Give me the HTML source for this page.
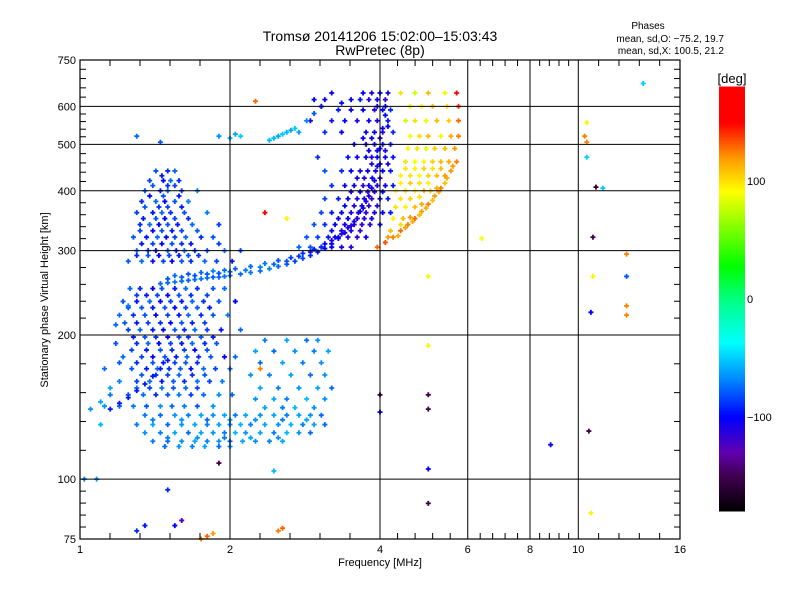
<!DOCTYPE html>
<html><head><meta charset="utf-8"><style>
body{margin:0;background:#fff;}
svg{display:block;font-family:"Liberation Sans",sans-serif;}
</style></head><body>
<svg id="c" width="800" height="600" viewBox="0 0 800 600">
<rect width="800" height="600" fill="#fff"/>
<g id="marks"></g>
<g id="grid"></g>
<text x="380" y="41" font-size="14" text-anchor="middle">Tromsø 20141206 15:02:00–15:03:43</text>
<text x="380" y="55" font-size="14" text-anchor="middle">RwPretec (8p)</text>
<text x="648" y="29" font-size="10" text-anchor="middle">Phases</text>
<text x="724" y="42" font-size="10" text-anchor="end">mean, sd,O: −75.2, 19.7</text>
<text x="724" y="54" font-size="10" text-anchor="end">mean, sd,X: 100.5, 21.2</text>
<text x="380" y="566" font-size="11" text-anchor="middle">Frequency [MHz]</text>
<text x="48" y="300" font-size="11" text-anchor="middle" transform="rotate(-90 48 300)">Stationary phase Virtual Height [km]</text>
<g id="cbar"></g>
</svg>
<script>
// Frequency [MHz], height [km], phase [deg]
const fTrace = [[1.45,256,-75],[1.5,257,-75],[1.55,258,-72],[1.6,259,-75],[1.65,260,-78],[1.7,261,-75],[1.75,262,-72],[1.8,263,-75],[1.85,264,-78],[1.9,264,-75],[1.95,265,-72],[2.0,266,-75],[2.1,268,-75],[2.2,270,-72],[2.3,272,-75],[2.4,275,-70],[2.5,278,-75],[2.6,281,-80],[2.7,285,-85],[2.8,289,-85],[2.9,293,-90],[3.0,298,-95],[3.1,303,-100],[3.2,310,-105],[3.3,318,-105],[3.4,327,-105],[3.5,338,-110],[3.6,350,-105],[3.7,368,-105],[3.8,390,-110],[3.9,420,-105],[3.95,450,-105],[4.0,490,-100],[4.05,540,-105],[4.1,600,-100],[1.55,266,-75],[1.65,268,-80],[1.75,270,-75],[1.85,272,-70],[1.95,273,-75],[2.05,275,-78],[2.2,278,-75],[2.35,282,-72],[2.5,286,-80],[2.65,290,-85],[2.8,296,-90],[2.95,302,-95],[3.1,310,-100],[3.25,320,-105],[3.45,335,-110],[3.65,362,-105],[3.85,405,-110],[1.5,262,-80],[1.6,264,-78],[1.7,266,-82],[1.8,268,-78],[1.9,269,-80],[2.0,271,-75],[2.15,273,-72],[2.3,277,-70],[2.45,281,-75],[2.6,285,-82],[2.75,292,-88],[2.9,298,-95],[3.05,305,-100],[3.2,315,-105],[3.35,325,-110],[3.55,345,-105],[3.75,380,-110]];
const lowBlob = [[1.42,440,-80],[1.5,440,-90],[1.55,440,-75],[1.38,420,-85],[1.47,420,-100],[1.52,420,-75],[1.58,420,-90],[1.35,400,-80],[1.45,400,-95],[1.5,400,-75],[1.6,400,-85],[1.72,400,-70],[1.33,380,-90],[1.42,380,-75],[1.48,380,-100],[1.55,380,-80],[1.65,380,-70],[1.3,360,-85],[1.4,360,-95],[1.46,360,-75],[1.52,360,-90],[1.62,360,-80],[1.8,360,-70],[1.32,340,-90],[1.38,340,-75],[1.44,340,-100],[1.5,340,-80],[1.57,340,-95],[1.68,340,-75],[1.9,340,-85],[1.28,320,-80],[1.36,320,-95],[1.43,320,-75],[1.49,320,-100],[1.55,320,-85],[1.63,320,-75],[1.75,320,-90],[1.85,320,-80],[1.3,300,-75],[1.37,300,-90],[1.42,300,-100],[1.5,300,-80],[1.56,300,-95],[1.62,300,-75],[1.7,300,-90],[1.8,300,-80],[1.95,300,-75],[2.1,300,-85],[1.25,285,-80],[1.33,285,-75],[1.4,285,-95],[1.47,285,-85],[1.53,285,-100],[1.6,285,-80],[1.67,285,-90],[1.78,285,-75],[1.88,285,-85],[2.02,285,-95],[1.26,250,-75],[1.32,250,-90],[1.4,250,-100],[1.46,250,-80],[1.55,250,-95],[1.63,250,-75],[1.72,250,-90],[1.85,250,-80],[1.95,250,-75],[1.22,235,-80],[1.3,235,-95],[1.38,235,-75],[1.45,235,-100],[1.52,235,-85],[1.6,235,-95],[1.68,235,-75],[1.77,235,-90],[1.9,235,-80],[2.05,235,-100],[1.2,220,-75],[1.28,220,-90],[1.35,220,-80],[1.42,220,-100],[1.5,220,-85],[1.58,220,-95],[1.65,220,-75],[1.75,220,-90],[1.85,220,-80],[1.98,220,-70],[1.25,205,-85],[1.32,205,-75],[1.4,205,-95],[1.47,205,-100],[1.55,205,-80],[1.62,205,-90],[1.7,205,-75],[1.8,205,-85],[1.92,205,-95],[2.1,205,-75],[1.18,192,-80],[1.3,192,-90],[1.37,192,-75],[1.44,192,-100],[1.52,192,-85],[1.6,192,-95],[1.68,192,-75],[1.78,192,-90],[1.88,192,-80],[1.22,180,-75],[1.33,180,-85],[1.4,180,-100],[1.48,180,-80],[1.56,180,-95],[1.64,180,-75],[1.73,180,-90],[1.83,180,-80],[1.95,180,-100],[2.05,180,-75],[1.27,170,-80],[1.36,170,-95],[1.43,170,-75],[1.51,170,-90],[1.59,170,-80],[1.67,170,-100],[1.77,170,-75],[1.87,170,-85],[2.0,170,-75],[1.2,160,-70],[1.3,160,-85],[1.38,160,-75],[1.46,160,-95],[1.54,160,-80],[1.62,160,-90],[1.72,160,-75],[1.82,160,-85],[1.93,160,-70],[1.15,150,-70],[1.25,150,-80],[1.34,150,-75],[1.42,150,-90],[1.5,150,-80],[1.58,150,-70],[1.67,150,-85],[1.77,150,-75],[1.9,150,-65],[2.02,150,-75],[1.12,142,-65],[1.2,142,-75],[1.28,142,-70],[1.36,142,-80],[1.45,142,-65],[1.53,142,-75],[1.62,142,-70],[1.72,142,-80],[1.85,142,-65]];
const lowBlobExtra = [[1.46,430,-95],[1.4,410,-80],[1.5,410,-90],[1.55,410,-85],[1.38,390,-100],[1.47,390,-80],[1.58,390,-95],[1.35,370,-80],[1.44,370,-90],[1.5,370,-85],[1.6,370,-95],[1.34,350,-95],[1.42,350,-80],[1.48,350,-100],[1.55,350,-85],[1.65,350,-90],[1.32,330,-85],[1.4,330,-100],[1.46,330,-80],[1.53,330,-95],[1.6,330,-85],[1.72,330,-80],[1.33,310,-95],[1.4,310,-85],[1.46,310,-100],[1.53,310,-80],[1.6,310,-90],[1.67,310,-95],[1.9,310,-85],[1.3,293,-90],[1.37,293,-80],[1.44,293,-100],[1.51,293,-85],[1.58,293,-95],[1.65,293,-80],[1.73,293,-90],[1.3,242,-85],[1.36,242,-95],[1.43,242,-85],[1.5,242,-100],[1.58,242,-80],[1.67,242,-90],[1.8,242,-85],[1.25,228,-85],[1.33,228,-80],[1.4,228,-95],[1.48,228,-80],[1.55,228,-100],[1.63,228,-85],[1.72,228,-80],[1.82,228,-95],[1.23,212,-80],[1.3,212,-95],[1.37,212,-85],[1.45,212,-90],[1.52,212,-100],[1.6,212,-80],[1.68,212,-95],[1.78,212,-85],[1.28,198,-95],[1.35,198,-80],[1.42,198,-90],[1.5,198,-100],[1.58,198,-85],[1.65,198,-90],[1.75,198,-80],[1.85,198,-95],[1.27,186,-85],[1.36,186,-95],[1.45,186,-80],[1.53,186,-90],[1.62,186,-85],[1.7,186,-100],[1.8,186,-80],[1.3,175,-90],[1.4,175,-80],[1.47,175,-95],[1.55,175,-85],[1.63,175,-80],[1.72,175,-90],[1.33,165,-80],[1.42,165,-90],[1.5,165,-85],[1.58,165,-75],[1.68,165,-90],[1.78,165,-80],[1.3,155,-75],[1.38,155,-85],[1.46,155,-70],[1.54,155,-80],[1.63,155,-75],[1.72,155,-85]];
const bottomBand = [[1.35,136,-70],[1.45,136,-75],[1.55,136,-65],[1.65,136,-70],[1.75,136,-60],[1.85,136,-65],[1.95,136,-60],[2.05,136,-70],[2.15,136,-60],[2.3,136,-65],[2.45,136,-60],[2.6,136,-70],[2.75,136,-60],[2.9,136,-65],[3.05,136,-75],[1.3,130,-70],[1.4,130,-60],[1.5,130,-75],[1.6,130,-65],[1.7,130,-60],[1.8,130,-70],[1.9,130,-60],[2.0,130,-65],[2.1,130,-55],[2.2,130,-70],[2.35,130,-60],[2.5,130,-65],[2.65,130,-55],[2.8,130,-70],[2.95,130,-60],[3.1,130,-75],[1.35,125,-65],[1.45,125,-70],[1.55,125,-60],[1.65,125,-75],[1.75,125,-60],[1.85,125,-65],[1.95,125,-70],[2.05,125,-55],[2.15,125,-65],[2.3,125,-60],[2.45,125,-70],[2.6,125,-55],[2.75,125,-65],[2.9,125,-75],[1.4,120,-70],[1.5,120,-75],[1.6,120,-65],[1.7,120,-60],[1.8,120,-70],[1.9,120,-65],[2.0,120,-75],[2.12,120,-60],[2.25,120,-65],[2.4,120,-70],[2.55,120,-60],[1.48,117,-75],[1.58,117,-65],[1.68,117,-70],[1.78,117,-60],[1.9,117,-75],[2.0,117,-65],[1.4,133,-70],[1.6,133,-65],[1.8,133,-75],[2.0,133,-60],[2.25,133,-65],[2.55,133,-70],[2.85,133,-60],[1.5,122,-70],[1.72,122,-65],[1.95,122,-70],[2.2,122,-60],[2.5,122,-65]];
const midBlob = [[2.35,195,-70],[2.6,195,-60],[2.85,195,-75],[3.0,195,-65],[2.25,185,-60],[2.45,185,-75],[2.7,185,-65],[2.95,185,-70],[3.15,185,-60],[2.3,175,-75],[2.55,175,-60],[2.8,175,-70],[3.05,175,-65],[2.2,165,-65],[2.4,165,-70],[2.65,165,-60],[2.9,165,-75],[3.1,165,-65],[2.3,155,-60],[2.5,155,-70],[2.75,155,-65],[3.0,155,-60],[3.2,155,-75],[2.25,147,-65],[2.45,147,-60],[2.6,147,-70],[2.85,147,-55],[3.1,147,-65],[2.35,141,-60],[2.55,141,-70],[2.7,141,-55],[2.95,141,-65]];
const leftFringe = [[1.05,140,-65],[1.1,145,-60],[1.02,100,-70],[1.08,100,-65],[1.12,170,-75],[1.15,155,-60],[1.2,175,-80],[1.18,210,-75],[1.25,230,-70],[1.1,130,-55],[1.15,140,-95],[1.2,144,-95],[1.25,148,-95],[1.3,153,-95],[1.35,158,-95],[1.4,164,-95],[1.45,170,-95],[1.5,177,-95]];
const oTrace = [[3.7,640,-100],[3.85,640,-110],[4.0,640,-100],[4.15,640,-105],[3.5,620,-100],[3.65,620,-95],[3.8,620,-110],[3.95,620,-100],[4.1,620,-115],[3.3,590,-95],[3.5,590,-105],[3.7,590,-100],[3.9,590,-110],[4.05,590,-100],[4.2,590,-90],[3.2,560,-95],[3.4,560,-100],[3.6,560,-110],[3.8,560,-100],[3.95,560,-105],[4.15,560,-95],[3.1,530,-90],[3.35,530,-100],[3.75,530,-105],[3.9,530,-100],[4.05,530,-110],[4.25,530,-90],[3.55,500,-100],[3.75,500,-110],[3.9,500,-100],[4.05,500,-105],[4.2,500,-95],[3.45,470,-95],[3.6,470,-105],[3.75,470,-100],[3.85,470,-110],[3.95,470,-100],[4.1,470,-105],[4.25,470,-95],[3.35,440,-90],[3.5,440,-100],[3.65,440,-110],[3.78,440,-100],[3.92,440,-105],[4.05,440,-100],[4.2,440,-95],[3.2,410,-90],[3.4,410,-100],[3.55,410,-105],[3.7,410,-115],[3.8,410,-100],[3.95,410,-110],[4.1,410,-100],[4.25,410,-95],[3.1,385,-85],[3.3,385,-95],[3.45,385,-100],[3.6,385,-110],[3.72,385,-105],[3.85,385,-115],[4.0,385,-100],[4.15,385,-95],[3.05,360,-85],[3.2,360,-95],[3.35,360,-100],[3.5,360,-110],[3.62,360,-105],[3.75,360,-115],[3.9,360,-105],[4.05,360,-100],[4.2,360,-95],[2.95,340,-80],[3.1,340,-90],[3.25,340,-100],[3.4,340,-105],[3.55,340,-110],[3.68,340,-115],[3.82,340,-110],[4.0,340,-100],[2.85,320,-80],[3.0,320,-85],[3.15,320,-95],[3.3,320,-100],[3.45,320,-110],[3.6,320,-115],[3.75,320,-105],[2.75,305,-75],[2.9,305,-80],[3.05,305,-90],[3.2,305,-100],[3.35,305,-110],[3.5,305,-115],[2.95,620,-100],[3.05,600,-95],[3.2,640,-105],[3.35,610,-100],[2.9,560,-110],[3.0,470,-90],[3.1,440,-80]];
const oTraceExtra = [[3.6,425,-105],[3.72,425,-110],[3.86,425,-100],[4.0,425,-110],[3.5,398,-105],[3.65,398,-100],[3.78,398,-115],[3.9,398,-105],[4.05,398,-100],[3.4,372,-100],[3.55,372,-110],[3.68,372,-105],[3.8,372,-115],[3.95,372,-110],[3.3,350,-105],[3.45,350,-100],[3.6,350,-115],[3.72,350,-110],[3.85,350,-105],[3.2,330,-100],[3.35,330,-110],[3.5,330,-105],[3.65,330,-115],[3.8,485,-105],[3.95,485,-100],[4.1,485,-110],[3.85,455,-110],[4.0,455,-100],[4.15,455,-105],[3.7,515,-100],[3.85,515,-105],[4.0,515,-110],[4.15,545,-100],[3.95,600,-105],[4.1,575,-100]];
const xTrace = [[3.95,305,130],[4.1,312,135],[4.25,320,125],[4.4,330,130],[4.55,340,125],[4.7,350,130],[4.85,362,120],[5.0,375,125],[5.15,390,120],[5.3,405,125],[5.45,425,115],[5.6,450,120],[4.2,330,110],[4.4,340,100],[4.25,350,95],[4.45,350,110],[4.6,352,120],[4.3,370,100],[4.5,370,95],[4.7,370,110],[4.85,375,115],[4.3,400,90],[4.5,400,100],[4.7,400,95],[4.9,400,110],[5.05,400,105],[5.2,405,115],[4.4,430,95],[4.6,430,100],[4.8,430,90],[5.0,430,105],[5.2,430,110],[5.4,430,120],[4.5,460,100],[4.7,460,90],[4.9,460,95],[5.1,460,105],[5.3,460,110],[5.5,460,115],[5.7,460,125],[4.55,490,95],[4.75,490,100],[4.95,490,85],[5.15,490,105],[5.4,490,110],[5.65,490,120],[4.6,520,90],[4.8,520,100],[5.0,520,110],[5.3,520,95],[5.55,520,115],[5.75,520,125],[4.5,560,80],[4.7,560,100],[4.95,560,95],[5.2,560,110],[5.5,560,105],[5.75,560,130],[4.6,600,95],[4.85,600,90],[5.1,600,110],[5.45,600,100],[5.75,600,140],[4.4,640,100],[4.7,640,80],[5.0,640,110],[5.4,640,95],[5.7,640,160]];
const xTraceExtra = [[4.15,320,120],[4.35,322,115],[4.5,335,120],[4.65,345,115],[4.8,356,110],[4.95,368,115],[5.1,382,110],[5.25,398,115],[5.4,415,110],[5.55,440,120],[4.4,385,100],[4.6,385,105],[4.8,388,100],[4.4,415,95],[4.6,415,105],[4.8,415,100],[5.0,415,95],[4.5,445,100],[4.7,445,95],[4.9,445,105],[5.1,445,100],[5.3,445,110]];
const upperLeft = [[2.0,515,-55],[2.05,525,-60],[2.1,520,-50],[2.45,515,-55],[2.5,520,-60],[2.55,525,-50],[2.6,530,-55],[2.65,535,-60],[2.7,540,-50],[2.75,530,-60],[2.4,510,-55],[1.9,520,-65],[2.85,560,-70],[2.95,580,-80],[3.05,600,-95],[3.1,620,-100],[1.3,520,-75],[1.45,505,-80],[2.25,615,130]];
const scattered = [[1.5,95,-90],[1.55,80,-100],[1.6,82,-125],[1.3,78,-90],[1.35,80,-95],[1.75,75,125],[1.8,76,130],[1.85,77,120],[2.5,78,125],[2.55,79,130],[1.9,108,-150],[2.45,104,-55],[5.0,105,-100],[5.0,89,-150],[4.0,150,-150],[5.0,150,-150],[4.0,138,-100],[5.0,140,-150],[5.0,190,95],[5.0,265,95],[6.4,318,90],[8.8,118,-100],[10.5,126,-150],[10.6,85,95],[10.6,223,-100],[10.7,265,95],[12.5,265,-80],[12.5,295,125],[12.5,230,125],[12.5,220,125],[10.7,320,-150],[10.85,407,-160],[11.2,405,-50],[10.4,470,-50],[10.4,505,125],[10.3,520,125],[10.4,555,95],[13.5,670,-50],[2.35,360,165],[2.3,170,125],[2.6,350,95]];
const xTickVals = [1,2,4,6,8,10,16];
const xTickLabels = ["1","2","4","6","8","10","16"];
const yTickVals = [75,100,200,300,400,500,600,750];
const yTickLabels = ["75","100","200","300","400","500","600","750"];
const cbTickVals = [100,0,-100];
const cbTickLabels = ["100","0","−100"];

const L=80,R=680,T=60,B=539;
const xs = f => L + (R-L)*Math.log2(f)/4;
const ys = h => B - (B-T)*Math.log10(h/75);
const cbTop=87, cbBot=511;
const cbs = v => cbBot - (v+180)/360*(cbBot-cbTop);
const stops=[[-180,[0,0,0]],[-150,[64,0,80]],[-130,[96,0,176]],[-100,[0,0,255]],[-66,[0,144,255]],[-37,[0,255,255]],[0,[0,255,128]],[28,[0,255,0]],[92,[255,255,0]],[120,[255,153,0]],[150,[255,0,0]],[180,[255,0,0]]];
function col(p){for(let i=1;i<stops.length;i++){if(p<=stops[i][0]){const a=stops[i-1],b=stops[i],t=(p-a[0])/(b[0]-a[0]);return 'rgb('+a[1].map((c,k)=>Math.round(c+(b[1][k]-c)*t)).join(',')+')';}}return 'rgb(255,0,0)';}
const NS='http://www.w3.org/2000/svg';
function mk(tag,attrs,parent){const e=document.createElementNS(NS,tag);for(const k in attrs)e.setAttribute(k,attrs[k]);parent.appendChild(e);return e;}
const marks=document.getElementById('marks');
const groups=[fTrace,lowBlob,lowBlobExtra,bottomBand,midBlob,leftFringe,oTrace,oTraceExtra,xTrace,xTraceExtra,upperLeft,scattered];
groups.forEach(g=>g.forEach(d=>{const x=xs(d[0]),y=ys(d[1]);
 const p=mk('path',{d:`M${x-2.5} ${y}H${x+2.5}M${x} ${y-2.5}V${y+2.5}`,stroke:col(d[2]),'stroke-width':1.8},marks);
 
 
}));
const grid=document.getElementById('grid');
mk('rect',{x:L,y:T,width:R-L,height:B-T,fill:'none',stroke:'#000','stroke-width':1.2},grid);
xTickVals.forEach((v,i)=>{const x=xs(v);
 if(i>0&&i<xTickVals.length-1){const ln=mk('line',{x1:x,x2:x,y1:T,y2:B,stroke:'#000'},grid);}
 const t=mk('text',{x:x,y:553,'font-size':11,'text-anchor':'middle'},grid);t.textContent=xTickLabels[i];
 
 
 if(i<xTickVals.length-1){const x2=xs(xTickVals[i+1]);for(let k=1;k<5;k++){const xx=x+(x2-x)*k/5;mk('line',{x1:xx,x2:xx,y1:T,y2:T+6,stroke:'#000'},grid);mk('line',{x1:xx,x2:xx,y1:B,y2:B-6,stroke:'#000'},grid);}}
});
yTickVals.forEach((v,i)=>{const y=ys(v);
 if(i>0&&i<yTickVals.length-1){const ln=mk('line',{x1:L,x2:R,y1:y,y2:y,stroke:'#000'},grid);}
 const t=mk('text',{x:76,y:y+4,'font-size':11,'text-anchor':'end'},grid);t.textContent=yTickLabels[i];
 
 
 if(i<yTickVals.length-1){const y2=ys(yTickVals[i+1]);for(let k=1;k<5;k++){const yy=y+(y2-y)*k/5;mk('line',{x1:L,x2:L+6,y1:yy,y2:yy,stroke:'#000'},grid);mk('line',{x1:R,x2:R-6,y1:yy,y2:yy,stroke:'#000'},grid);}}
});
const cbar=document.getElementById('cbar');
for(let v=-180;v<180;v+=2){mk('rect',{x:719,y:cbs(v+2)-0.5,width:26,height:cbs(v)-cbs(v+2)+1,fill:col(v+1)},cbar);}
cbTickVals.forEach((v,i)=>{const t=mk('text',{x:747,y:cbs(v)+4,'font-size':11},cbar);t.textContent=cbTickLabels[i];
 
 });
const u=mk('text',{x:732,y:83,'font-size':13,'text-anchor':'middle'},cbar);u.textContent='[deg]';


</script>
</body></html>
